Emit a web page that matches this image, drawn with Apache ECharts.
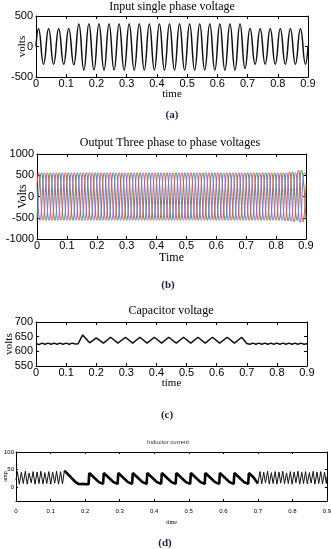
<!DOCTYPE html>
<html><head><meta charset="utf-8">
<script src="https://cdn.jsdelivr.net/npm/echarts@6/dist/echarts.min.js"></script>
<style>html,body{margin:0;padding:0;background:#fff}#c{width:331px;height:549px}</style>
</head><body><div id="c"></div>
<script>
// ---------- (a) input single phase voltage : extremes ----------
var inTime = [0, 0.0083, 0.025, 0.0417, 0.0583, 0.075, 0.0917, 0.1083, 0.125, 0.1417, 0.1583, 0.175, 0.1917, 0.2083, 0.225, 0.2417, 0.2583, 0.275, 0.2917, 0.3083, 0.325, 0.3417, 0.3583, 0.375, 0.3917, 0.4083, 0.425, 0.4417, 0.4583, 0.475, 0.4917, 0.5083, 0.525, 0.5417, 0.5583, 0.575, 0.5917, 0.6083, 0.625, 0.6417, 0.6583, 0.675, 0.6917, 0.7083, 0.725, 0.7417, 0.7583, 0.775, 0.7917, 0.8083, 0.825, 0.8417, 0.8583, 0.875, 0.8917, 0.9];
var inVolt = [0, 290, -290, 290, -290, 290, -290, 290, -300, 370, -385, 370, -385, 370, -385, 370, -385, 370, -385, 370, -385, 370, -385, 370, -385, 370, -385, 370, -385, 370, -385, 370, -385, 370, -385, 370, -385, 370, -385, 370, -385, 370, -360, 295, -290, 290, -290, 290, -290, 290, -290, 290, -290, 290, -290, 0];

// ---------- (b) output three phase voltages : extremes ----------
var redTime = [0, 0.005,0.02,0.035,0.05,0.065,0.08,0.095,0.11,0.125,0.14,0.155,0.17,0.185,0.2,0.215,0.23,0.245,0.26,0.275,0.29,0.305,0.32,0.335,0.35,0.365,0.38,0.395,0.41,0.425,0.44,0.455,0.47,0.485,0.5,0.515,0.53,0.545,0.56,0.575,0.59,0.605,0.62,0.635,0.65,0.665,0.68,0.695,0.71,0.725,0.74,0.755,0.77,0.785,0.8,0.815,0.83,0.845,0.86,0.875,0.89, 0.9];
var redVolt = [280, 560,-560,560,-560,560,-560,560,-560,560,-560,560,-560,560,-560,560,-560,560,-560,560,-560,560,-560,560,-560,560,-560,560,-560,560,-560,560,-560,560,-560,560,-560,560,-560,560,-560,560,-560,560,-560,560,-560,560,-560,560,-560,560,-560,560,-560,560,-570,580,-600,610,-600, 300];
var greenTime = [0,0.015,0.03,0.045,0.06,0.075,0.09,0.105,0.12,0.135,0.15,0.165,0.18,0.195,0.21,0.225,0.24,0.255,0.27,0.285,0.3,0.315,0.33,0.345,0.36,0.375,0.39,0.405,0.42,0.435,0.45,0.465,0.48,0.495,0.51,0.525,0.54,0.555,0.57,0.585,0.6,0.615,0.63,0.645,0.66,0.675,0.69,0.705,0.72,0.735,0.75,0.765,0.78,0.795,0.81,0.825,0.84,0.855,0.87,0.885,0.9];
var greenVolt = [-560,560,-560,560,-560,560,-560,560,-560,560,-560,560,-560,560,-560,560,-560,560,-560,560,-560,560,-560,560,-560,560,-560,560,-560,560,-560,560,-560,560,-560,560,-560,560,-560,560,-560,560,-560,560,-560,560,-560,560,-560,560,-560,560,-560,560,-560,560,-570,580,-560,620,-560];
var blueTime = [0, 0.01,0.025,0.04,0.055,0.07,0.085,0.1,0.115,0.13,0.145,0.16,0.175,0.19,0.205,0.22,0.235,0.25,0.265,0.28,0.295,0.31,0.325,0.34,0.355,0.37,0.385,0.4,0.415,0.43,0.445,0.46,0.475,0.49,0.505,0.52,0.535,0.55,0.565,0.58,0.595,0.61,0.625,0.64,0.655,0.67,0.685,0.7,0.715,0.73,0.745,0.76,0.775,0.79,0.805,0.82,0.835,0.85,0.865,0.88,0.895, 0.9];
var blueVolt = [280, -560,560,-560,560,-560,560,-560,560,-560,560,-560,560,-560,560,-560,560,-560,560,-560,560,-560,560,-560,560,-560,560,-560,560,-560,560,-560,560,-560,560,-560,560,-560,560,-560,560,-560,560,-560,560,-560,560,-560,560,-560,560,-560,560,-560,560,-560,560,-580,560,-610,560, 500];

// ---------- (c) capacitor voltage ----------
var capTime = [0,0.01,0.02,0.03,0.04,0.05,0.06,0.07,0.08,0.09,0.1,0.11,0.12,0.13,0.14,0.155,0.178,0.2,0.224,0.248,0.272,0.297,0.321,0.345,0.369,0.393,0.417,0.441,0.466,0.49,0.514,0.538,0.562,0.586,0.61,0.635,0.659,0.683,0.7,0.71,0.72,0.73,0.74,0.75,0.76,0.77,0.78,0.79,0.8,0.81,0.82,0.83,0.84,0.85,0.86,0.87,0.88,0.89,0.9];
var capVolt = [626,623,628,624,628,624,628,624,628,624,628,624,628,625,626,656,629,646,628,648,628,648,628,648,628,648,628,648,628,648,628,648,628,648,628,648,628,648,627,624,628,624,628,624,628,624,628,624,628,624,628,624,628,624,628,624,628,624,626];

// ---------- (d) inductor current : fast start, slow sawtooth middle, fast end ----------
var indFastATime = [0,0.004,0.0095,0.0155,0.021,0.027,0.0325,0.038,0.044,0.0495,0.055,0.061,0.0665,0.072,0.078,0.0835,0.089,0.095,0.1005,0.106,0.112,0.1175,0.123,0.129,0.1345,0.14];
var indFastAAmp  = [20,44,8,42,10,45,8,40,12,44,8,43,10,45,9,41,10,44,8,43,11,45,8,44,9,47];
var indSlowTime = [0.14,0.142,0.155,0.17,0.18,0.21,0.212,0.225,0.24,0.252,0.254,0.267,0.282,0.294,0.296,0.309,0.324,0.336,0.338,0.351,0.366,0.378,0.38,0.393,0.408,0.42,0.422,0.435,0.45,0.462,0.464,0.477,0.492,0.504,0.506,0.519,0.534,0.546,0.548,0.561,0.576,0.588,0.59,0.603,0.618,0.63,0.632,0.645,0.66,0.672,0.674,0.687,0.7];
var indSlowAmp  = [47,46,32,16,9,8,40,28,14,9,40,28,14,9,40,28,14,9,40,28,14,9,40,28,14,9,40,28,14,9,40,28,14,9,40,28,14,9,40,28,14,9,40,28,14,9,40,28,14,9,40,28,10];
var indFastBTime = [0.7,0.706,0.711,0.717,0.722,0.728,0.733,0.739,0.744,0.75,0.755,0.761,0.766,0.772,0.777,0.783,0.788,0.794,0.799,0.805,0.81,0.816,0.821,0.827,0.832,0.838,0.843,0.849,0.854,0.86,0.865,0.871,0.876,0.882,0.887,0.893,0.898,0.9];
var indFastBAmp  = [10,44,9,42,12,45,8,41,10,44,8,43,11,45,9,40,10,44,8,43,12,45,8,42,10,44,9,41,11,45,8,43,10,44,9,42,10,30];

var xTicks = [0, 0.9, 0.1];
var indYTicks = [0, 50, 100];

var serif = 'Liberation Serif', sans = 'Liberation Sans';
function pairs(t, v){ return t.map(function(x,i){ return [x, v[i]]; }); }
function plain(v){ return String(Math.round(v * 1000) / 1000); }

var grids = [
  {left:36, top:16, width:272, height:61},
  {left:37, top:154, width:269, height:85},
  {left:36, top:322, width:271, height:44},
  {left:16, top:452, width:311, height:49}
].map(function(g){ g.containLabel = false; g.outerBoundsMode = 'none'; return g; });
var axCfg = [
  {xname:'time', yname:'volts', ymin:-500, ymax:500, yint:500, fs:11, nfs:11, xnameGap:12, ynameGap:8, small:false},
  {xname:'Time', yname:'Volts', ymin:-1000, ymax:1000, yint:500, fs:11, nfs:12, xnameGap:13, ynameGap:8, small:false},
  {xname:'time', yname:'volts', ymin:550, ymax:700, yint:50, fs:11, nfs:11, xnameGap:12, ynameGap:21, small:false},
  {xname:'time', yname:'amp', ymin:-40, ymax:100, yint:null, fs:6, nfs:6, xnameGap:18, ynameGap:8, small:true}
];
var xAxes = [], yAxes = [];
axCfg.forEach(function(c, g){
  var tickStyle = {show:true, inside:true, length:c.small?2:3, lineStyle:{color:'#000', width:1}};
  var lineStyle = {show:true, onZero:false, lineStyle:{color:'#000', width:1}};
  xAxes.push({type:'value', gridIndex:g, min:xTicks[0], max:xTicks[1], interval:xTicks[2], position:'bottom',
    axisLine:lineStyle, axisTick:tickStyle, splitLine:{show:false},
    axisLabel:{color:'#000', fontFamily:sans, fontSize:c.fs, margin:c.small?7:1, lineHeight:c.fs, formatter:plain},
    name:c.xname, nameLocation:'middle', nameGap:c.xnameGap, nameMoveOverlap:false,
    nameTextStyle:{fontFamily:serif, fontSize:c.nfs, color:'#000'}});
  xAxes.push({type:'value', gridIndex:g, min:xTicks[0], max:xTicks[1], interval:xTicks[2], position:'top',
    axisLine:lineStyle, axisTick:tickStyle, splitLine:{show:false}, axisLabel:{show:false}});
  var yl = {type:'value', gridIndex:g, min:c.ymin, max:c.ymax, position:'left',
    axisLine:lineStyle, axisTick:Object.assign({}, tickStyle), splitLine:{show:false},
    axisLabel:{color:'#000', fontFamily:sans, fontSize:c.fs, margin:c.small?2:3, formatter:plain},
    name:c.yname, nameLocation:'middle', nameGap:c.ynameGap, nameRotate:90, nameMoveOverlap:false,
    nameTextStyle:{fontFamily:serif, fontSize:c.nfs, color:'#000'}};
  var yr = {type:'value', gridIndex:g, min:c.ymin, max:c.ymax, position:'right',
    axisLine:lineStyle, axisTick:Object.assign({}, tickStyle), splitLine:{show:false}, axisLabel:{show:false}};
  if (c.yint) { yl.interval = c.yint; yr.interval = c.yint; }
  else {
    yl.axisLabel.customValues = indYTicks; yl.axisTick.customValues = indYTicks;
    yr.axisTick.customValues = indYTicks;
  }
  yAxes.push(yl); yAxes.push(yr);
});

function line(g, data, color, width, smooth){
  return {type:'line', xAxisIndex:2*g, yAxisIndex:2*g, data:data, showSymbol:false, smooth:smooth,
    lineStyle:{color:color, width:width}, animation:false, clip:true};
}

var option = {
  animation:false,
  grid: grids,
  xAxis: xAxes,
  yAxis: yAxes,
  graphic: [
    {type:'text', x:172, y:7, style:{text:'Input single phase voltage', font:'12px "Liberation Serif"', fill:'#000', textAlign:'center', textVerticalAlign:'middle'}},
    {type:'text', x:172, y:115, style:{text:'(a)', font:'bold 11px "Liberation Serif"', fill:'#1a1f4d', textAlign:'center', textVerticalAlign:'middle'}},
    {type:'text', x:170, y:143, style:{text:'Output Three phase to phase voltages', font:'12px "Liberation Serif"', fill:'#000', textAlign:'center', textVerticalAlign:'middle'}},
    {type:'text', x:168, y:285, style:{text:'(b)', font:'bold 11px "Liberation Serif"', fill:'#1a1f4d', textAlign:'center', textVerticalAlign:'middle'}},
    {type:'text', x:171, y:311, style:{text:'Capacitor voltage', font:'12px "Liberation Serif"', fill:'#000', textAlign:'center', textVerticalAlign:'middle'}},
    {type:'text', x:167, y:415, style:{text:'(c)', font:'bold 11px "Liberation Serif"', fill:'#1a1f4d', textAlign:'center', textVerticalAlign:'middle'}},
    {type:'text', x:168, y:442, style:{text:'Inductor current', font:'6px "Liberation Sans"', fill:'#333', textAlign:'center', textVerticalAlign:'middle'}},
    {type:'text', x:165, y:543, style:{text:'(d)', font:'bold 11px "Liberation Serif"', fill:'#1a1f4d', textAlign:'center', textVerticalAlign:'middle'}}
  ],
  series: [
    line(0, pairs(inTime, inVolt), '#111', 1.5, 0.5),
    line(1, pairs(greenTime, greenVolt), '#3a9a3a', 1, 0.5),
    line(1, pairs(redTime, redVolt), '#ff4545', 1, 0.5),
    line(1, pairs(blueTime, blueVolt), '#7070ff', 1, 0.5),
    line(2, pairs(capTime, capVolt), '#111', 1.5, false),
    line(3, pairs(indFastATime, indFastAAmp), '#111', 1, false),
    line(3, pairs(indSlowTime, indSlowAmp), '#000', 2.6, false),
    line(3, pairs(indFastBTime, indFastBAmp), '#111', 1, false)
  ]
};
var chart = echarts.init(document.getElementById('c'), null, {renderer:'canvas'});
chart.setOption(option);
</script></body></html>
